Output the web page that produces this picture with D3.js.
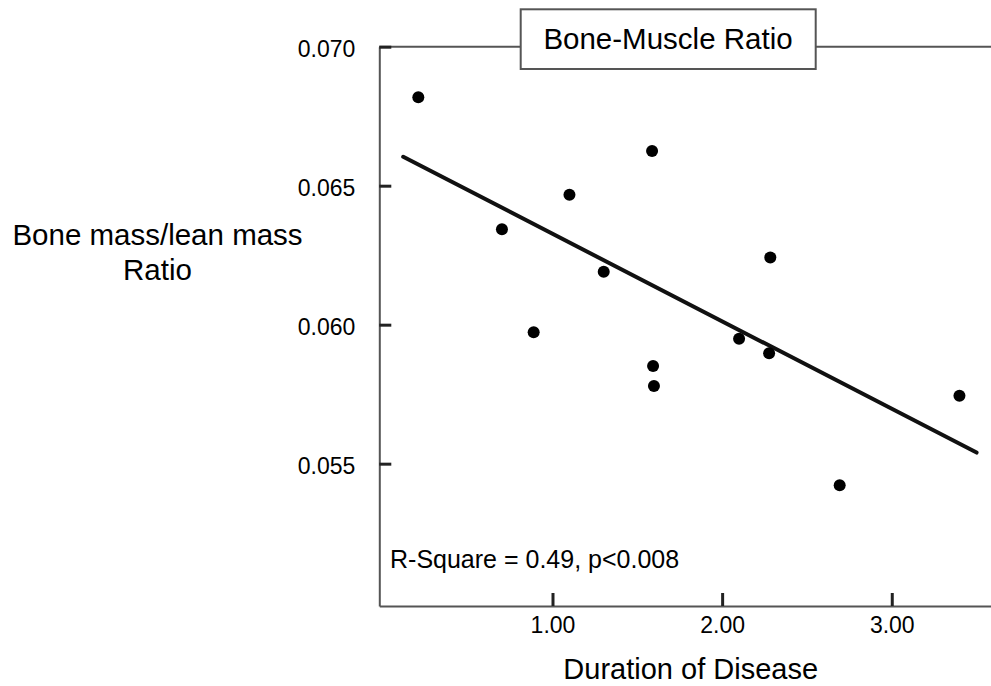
<!DOCTYPE html>
<html>
<head>
<meta charset="utf-8">
<script src="https://cdn.jsdelivr.net/npm/d3@7"></script>
<style>
  html, body { margin: 0; padding: 0; background: #fff; }
  svg { display: block; }
  text { font-family: "Liberation Sans", Arial, Helvetica, sans-serif; fill: #000; }
</style>
</head>
<body>
<svg id="chart" width="991" height="686"></svg>
<script>
// ---- data ----
const duration = [0.209, 0.702, 0.889, 1.100, 1.302, 1.587, 1.593, 1.598, 2.100, 2.277, 2.284, 2.693, 3.399];
const ratio    = [0.06818, 0.06343, 0.05973, 0.06467, 0.06190, 0.06625, 0.05851, 0.05779, 0.05949, 0.05897, 0.06242, 0.05422, 0.05744];
const fitX = [0.12, 3.50];
const fitY = [0.06604, 0.05540];
const xTicks = [1, 2, 3];
const yTicks = [0.055, 0.060, 0.065, 0.070];
const title = "Bone-Muscle Ratio";
const xTitle = "Duration of Disease";
const yTitle = ["Bone mass/lean mass", "Ratio"];
const note = "R-Square = 0.49, p<0.008";

// ---- layout ----
const svg = d3.select("#chart");
const plotL = 379.3, plotR = 991, plotT = 46.7, plotB = 606;

const x = d3.scaleLinear().domain([-0.021, 3.585]).range([plotL, plotR]);
const y = d3.scaleLinear().domain([0.04988, 0.070]).range([plotB, plotT]);

// top frame line
svg.append("line")
  .attr("x1", plotL).attr("x2", plotR).attr("y1", plotT).attr("y2", plotT)
  .attr("stroke", "#555").attr("stroke-width", 2);

// y axis
const yAxis = svg.append("g")
  .attr("transform", `translate(${plotL},0)`)
  .call(d3.axisLeft(y).tickValues(yTicks).tickFormat(d3.format(".3f"))
    .tickSizeInner(-12).tickSizeOuter(0).tickPadding(24));
yAxis.select(".domain").attr("stroke", "#555").attr("stroke-width", 2);
yAxis.selectAll(".tick line").attr("stroke", "#222").attr("stroke-width", 3);
yAxis.selectAll(".tick text").attr("font-size", 23).attr("dy", "0.43em")
  .style("font-family", "'Liberation Sans', Arial, Helvetica, sans-serif").attr("fill", "#000");

// x axis
const xAxis = svg.append("g")
  .attr("transform", `translate(0,${plotB})`)
  .call(d3.axisBottom(x).tickValues(xTicks).tickFormat(d3.format(".2f"))
    .tickSizeInner(-13).tickSizeOuter(0).tickPadding(10.7));
xAxis.select(".domain").attr("stroke", "#555").attr("stroke-width", 2);
xAxis.selectAll(".tick line").attr("stroke", "#222").attr("stroke-width", 3);
xAxis.selectAll(".tick text").attr("font-size", 23)
  .style("font-family", "'Liberation Sans', Arial, Helvetica, sans-serif").attr("fill", "#000");

// regression line
svg.append("line")
  .attr("x1", x(fitX[0])).attr("y1", y(fitY[0]))
  .attr("x2", x(fitX[1])).attr("y2", y(fitY[1]))
  .attr("stroke", "#111").attr("stroke-width", 4).attr("stroke-linecap", "round");

// points
svg.append("g").selectAll("circle")
  .data(duration.map((d, i) => [d, ratio[i]]))
  .join("circle")
  .attr("cx", d => x(d[0])).attr("cy", d => y(d[1]))
  .attr("r", 6).attr("fill", "#000");

// title box
svg.append("rect")
  .attr("x", 520.7).attr("y", 9.3).attr("width", 295).attr("height", 59.7)
  .attr("fill", "#fff").attr("stroke", "#555").attr("stroke-width", 2);
svg.append("text")
  .attr("x", 668).attr("y", 49).attr("text-anchor", "middle")
  .attr("font-size", 29.5).text(title);

// note
svg.append("text")
  .attr("x", 390).attr("y", 568).attr("font-size", 25).text(note);

// axis titles
svg.append("text")
  .attr("x", 690.7).attr("y", 679).attr("text-anchor", "middle")
  .attr("font-size", 29).text(xTitle);

svg.append("text")
  .attr("text-anchor", "middle").attr("font-size", 29.5)
  .selectAll("tspan").data(yTitle).join("tspan")
  .attr("x", 157.5).attr("y", (d, i) => 245 + i * 35).text(d => d);
</script>
</body>
</html>
